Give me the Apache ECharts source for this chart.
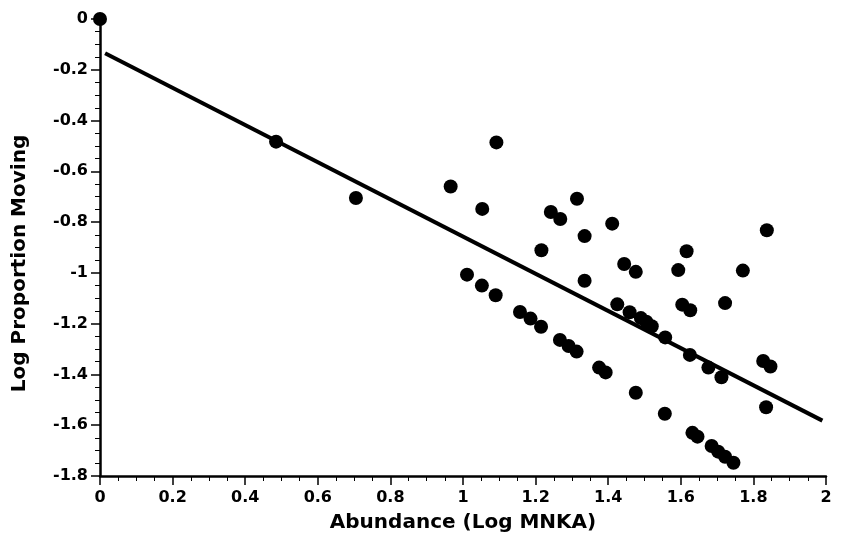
<!DOCTYPE html>
<html>
<head>
<meta charset="utf-8">
<script src="https://cdn.jsdelivr.net/npm/echarts@6/dist/echarts.min.js"></script>
<style>html,body{margin:0;padding:0;background:#fff;}#c{width:843px;height:547px;}</style>
</head>
<body>
<div id="c"></div>
<script>
var xTitle = 'Abundance (Log MNKA)';
var yTitle = 'Log Proportion Moving';
var abundance = [0, 0.485, 0.705, 0.966, 1.011, 1.052, 1.053, 1.090, 1.092, 1.157, 1.186, 1.215, 1.216, 1.242, 1.267, 1.268, 1.291, 1.313, 1.314, 1.335, 1.335, 1.375, 1.393, 1.411, 1.425, 1.444, 1.459, 1.476, 1.476, 1.490, 1.505, 1.520, 1.557, 1.556, 1.593, 1.604, 1.616, 1.626, 1.625, 1.632, 1.646, 1.676, 1.685, 1.703, 1.712, 1.722, 1.722, 1.745, 1.771, 1.827, 1.847, 1.835, 1.837];
var proportion = [0, -0.483, -0.705, -0.660, -1.007, -1.050, -0.748, -1.088, -0.486, -1.154, -1.180, -1.212, -0.911, -0.760, -1.264, -0.788, -1.288, -1.310, -0.708, -0.855, -1.031, -1.373, -1.392, -0.806, -1.124, -0.965, -1.155, -0.996, -1.472, -1.178, -1.192, -1.210, -1.254, -1.555, -0.989, -1.125, -0.915, -1.147, -1.323, -1.630, -1.645, -1.373, -1.682, -1.704, -1.411, -1.119, -1.724, -1.748, -0.991, -1.347, -1.369, -1.529, -0.832];
var fitX = [0.014, 1.99];
var fitY = [-0.135, -1.582];

var pts = abundance.map(function (x, i) { return [x, proportion[i]]; });
var fit = fitX.map(function (x, i) { return [x, fitY[i]]; });
var font = '"DejaVu Sans", "Liberation Sans", Arial, sans-serif';

var chart = echarts.init(document.getElementById('c'), null, {renderer: 'canvas'});
chart.setOption({
  animation: false,
  backgroundColor: '#fff',
  grid: {left: 100, right: 17, top: 19, bottom: 71, containLabel: false},
  xAxis: {
    type: 'value', min: 0, max: 2, interval: 0.2,
    name: xTitle, nameLocation: 'middle', nameGap: 37,
    nameTextStyle: {color: '#000', fontFamily: font, fontWeight: 'bold', fontSize: 20},
    axisLine: {show: true, onZero: false, lineStyle: {color: '#000', width: 2.5}},
    axisTick: {show: true, length: 9, lineStyle: {color: '#000', width: 1.5}},
    minorTick: {show: true, splitNumber: 4, length: 5, lineStyle: {color: '#000', width: 1}},
    axisLabel: {color: '#000', fontFamily: font, fontWeight: 'bold', fontSize: 16, margin: 14},
    splitLine: {show: false}
  },
  yAxis: {
    type: 'value', min: -1.8, max: 0, interval: 0.2,
    name: yTitle, nameLocation: 'middle', nameGap: 70, nameRotate: 90,
    nameTextStyle: {color: '#000', fontFamily: font, fontWeight: 'bold', fontSize: 20, padding: [0, 32, 0, 0]},
    axisLine: {show: true, onZero: false, lineStyle: {color: '#000', width: 2.5}},
    axisTick: {show: true, length: 9, lineStyle: {color: '#000', width: 1.5}},
    minorTick: {show: true, splitNumber: 4, length: 5, lineStyle: {color: '#000', width: 1}},
    axisLabel: {color: '#000', fontFamily: font, fontWeight: 'bold', fontSize: 16, margin: 12},
    splitLine: {show: false}
  },
  series: [
    {
      type: 'line', data: fit, showSymbol: false, symbol: 'none', clip: false,
      lineStyle: {color: '#000', width: 4}, z: 2
    },
    {
      type: 'scatter', data: pts, symbol: 'circle', symbolSize: 14, clip: false,
      itemStyle: {color: '#000', opacity: 1}, z: 3
    }
  ]
});
</script>
</body>
</html>
